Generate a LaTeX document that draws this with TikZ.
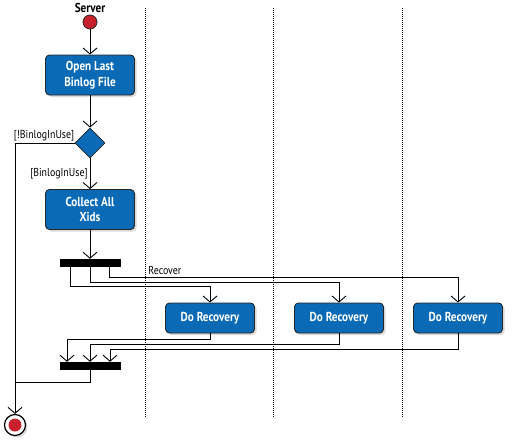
\documentclass[tikz,border=0pt]{standalone}
\usepackage{fontspec}
\setmainfont{PT Sans}[FakeStretch=0.86]
\usetikzlibrary{arrows.meta,shapes.geometric,shadows,positioning}
\definecolor{actblue}{RGB}{10,106,182}
\definecolor{startred}{RGB}{200,32,44}

\begin{document}
\begin{tikzpicture}[x=1pt,y=-1pt]
  \tikzset{ act/.style={rectangle,rounded corners=4pt,draw=black!85,line width=0.9pt,fill=actblue,text=white,
      font=\bfseries\fontsize{13}{15.5}\selectfont,minimum width=89pt,minimum height=30pt,inner sep=2pt,align=center,
      drop shadow={opacity=0.3,shadow xshift=2pt,shadow yshift=-2pt}},
    tall/.style={minimum height=40pt},
    bar/.style={rectangle,fill=black,inner sep=0pt,minimum width=61pt,minimum height=8pt},
    flow/.style={line width=0.9pt,-{Straight Barb[length=6pt,width=14pt,line width=0.9pt]}},
    link/.style={line width=0.9pt},
    lbl/.style={font=\fontsize{11.5}{13}\selectfont,inner sep=2pt},
    lane/.style={line width=0.8pt,dash pattern=on 1pt off 1pt},
  }
  \useasboundingbox (0,0) rectangle (512,445);

  % swimlanes
  \foreach \lx in {145,273,402}
    \draw[lane] (\lx,8) -- (\lx,418);

  \node[font=\bfseries\fontsize{13}{15}\selectfont] (srv) at (90,8) {Server};
  \node[circle,draw=black!85,line width=0.8pt,fill=startred,minimum size=14pt,inner sep=0pt] (start) at (90,22) {};
  \node[act,tall] (open) at (90,75) {Open Last\\Binlog File};
  \node[diamond,aspect=1,draw=black!85,line width=0.8pt,fill=actblue,minimum size=30pt,inner sep=0pt] (dec) at (90,143) {};
  \node[act,tall] (collect) at (90,209.5) {Collect All\\Xids};
  \node[bar] (fork) at (90,263) {};
  \node[act] (rec1) at (210,318) {Do Recovery};
  \node[act] (rec2) at (339,318) {Do Recovery};
  \node[act] (rec3) at (458,318) {Do Recovery};
  \node[bar] (join) at (90,366) {};
  \node[circle,draw=black,line width=1.2pt,fill=white,minimum size=21pt,inner sep=0pt,
    drop shadow={opacity=0.3,shadow xshift=2pt,shadow yshift=-2pt},
    path picture={\fill[startred] (path picture bounding box.center) circle (6.5pt);}] (stop) at (15,425) {};
  \coordinate (merge) at (15,382);

  \draw[flow] (start) -- (open);
  \draw[flow] (open) -- (dec);
  \draw[flow] (dec) -- (collect) node[lbl,midway,left] {[BinlogInUse]};
  \draw[flow] (dec.west) node[lbl,above left,xshift=2pt,yshift=-1pt] {[!BinlogInUse]} -| (stop.north);
  \draw[flow] (collect) -- (fork);

  \draw[flow] ([xshift=-20pt]fork.south) -- ++(0,19) -| (rec1.north);
  \draw[flow] (fork.south) -- ++(0,15) -| (rec2.north);
  \draw[flow] ([xshift=19pt]fork.south) -- ++(0,10) -| node[lbl,pos=0.08,above] {Recover} (rec3.north);

  \draw[flow] (rec1.south) -- ++(0,6) -| ([xshift=-23pt]join.north);
  \draw[flow] (rec2.south) -- ++(0,11) -| (join.north);
  \draw[flow] (rec3.south) -- ++(0,16) -| ([xshift=20pt]join.north);
  \draw[link] (join.south) |- (merge);
\end{tikzpicture}
\end{document}
